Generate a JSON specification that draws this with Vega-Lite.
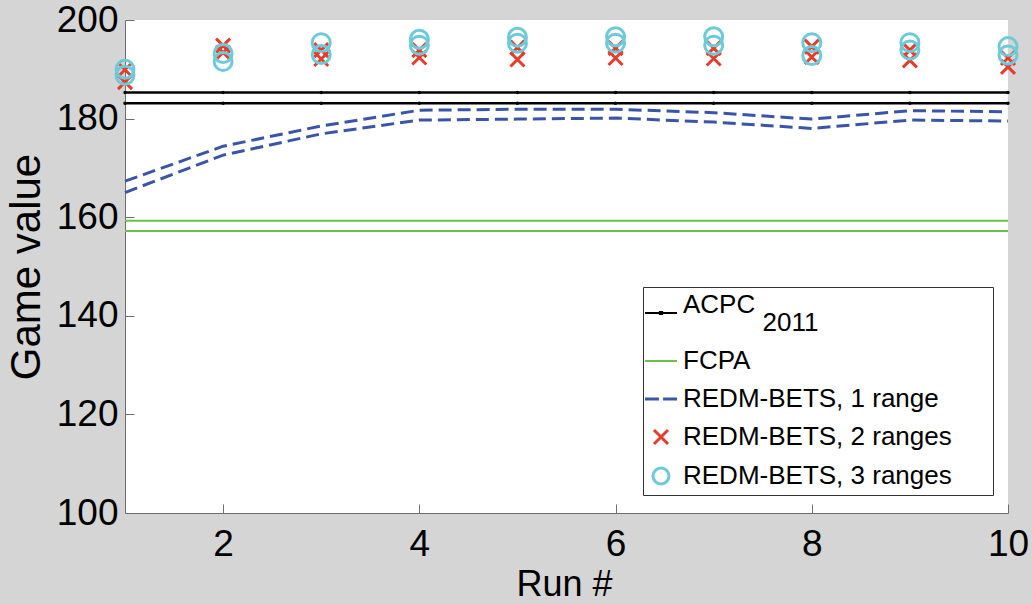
{
  "$schema": "https://vega.github.io/schema/vega-lite/v6.json",
  "width": 883,
  "height": 493,
  "autosize": {"type": "none"},
  "padding": {"left": 125, "top": 20, "right": 24, "bottom": 91},
  "background": "#d4d5d4",
  "config": {
    "view": {"fill": "white", "stroke": null},
    "font": "Liberation Sans",
    "axis": {
      "grid": false,
      "domainColor": "#6e6e6e",
      "domainWidth": 1,
      "tickColor": "#6e6e6e",
      "tickWidth": 1,
      "tickSize": -9,
      "labelFont": "Liberation Sans",
      "labelFontSize": 37,
      "labelColor": "black",
      "labelFlush": false,
      "labelOverlap": false,
      "titleFont": "Liberation Sans",
      "titleFontWeight": "normal",
      "titleColor": "black"
    }
  },
  "datasets": {
    "acpc": [
      {"series": "ACPC2011", "band": "a", "run": 1, "value": 185.3},
      {"series": "ACPC2011", "band": "a", "run": 2, "value": 185.3},
      {"series": "ACPC2011", "band": "a", "run": 3, "value": 185.3},
      {"series": "ACPC2011", "band": "a", "run": 4, "value": 185.3},
      {"series": "ACPC2011", "band": "a", "run": 5, "value": 185.3},
      {"series": "ACPC2011", "band": "a", "run": 6, "value": 185.3},
      {"series": "ACPC2011", "band": "a", "run": 7, "value": 185.3},
      {"series": "ACPC2011", "band": "a", "run": 8, "value": 185.3},
      {"series": "ACPC2011", "band": "a", "run": 9, "value": 185.3},
      {"series": "ACPC2011", "band": "a", "run": 10, "value": 185.3},
      {"series": "ACPC2011", "band": "b", "run": 1, "value": 183.1},
      {"series": "ACPC2011", "band": "b", "run": 2, "value": 183.1},
      {"series": "ACPC2011", "band": "b", "run": 3, "value": 183.1},
      {"series": "ACPC2011", "band": "b", "run": 4, "value": 183.1},
      {"series": "ACPC2011", "band": "b", "run": 5, "value": 183.1},
      {"series": "ACPC2011", "band": "b", "run": 6, "value": 183.1},
      {"series": "ACPC2011", "band": "b", "run": 7, "value": 183.1},
      {"series": "ACPC2011", "band": "b", "run": 8, "value": 183.1},
      {"series": "ACPC2011", "band": "b", "run": 9, "value": 183.1},
      {"series": "ACPC2011", "band": "b", "run": 10, "value": 183.1}
    ],
    "fcpa": [
      {"series": "FCPA", "band": "a", "run": 1, "value": 159.3},
      {"series": "FCPA", "band": "a", "run": 10, "value": 159.3},
      {"series": "FCPA", "band": "b", "run": 1, "value": 157.2},
      {"series": "FCPA", "band": "b", "run": 10, "value": 157.2}
    ],
    "redm1": [
      {"series": "REDM-BETS, 1 range", "band": "a", "run": 1, "value": 167.3},
      {"series": "REDM-BETS, 1 range", "band": "a", "run": 2, "value": 174.4},
      {"series": "REDM-BETS, 1 range", "band": "a", "run": 3, "value": 178.5},
      {"series": "REDM-BETS, 1 range", "band": "a", "run": 4, "value": 181.7},
      {"series": "REDM-BETS, 1 range", "band": "a", "run": 5, "value": 181.9},
      {"series": "REDM-BETS, 1 range", "band": "a", "run": 6, "value": 181.9},
      {"series": "REDM-BETS, 1 range", "band": "a", "run": 7, "value": 181.2},
      {"series": "REDM-BETS, 1 range", "band": "a", "run": 8, "value": 179.9},
      {"series": "REDM-BETS, 1 range", "band": "a", "run": 9, "value": 181.6},
      {"series": "REDM-BETS, 1 range", "band": "a", "run": 10, "value": 181.4},
      {"series": "REDM-BETS, 1 range", "band": "b", "run": 1, "value": 165.0},
      {"series": "REDM-BETS, 1 range", "band": "b", "run": 2, "value": 172.6},
      {"series": "REDM-BETS, 1 range", "band": "b", "run": 3, "value": 176.9},
      {"series": "REDM-BETS, 1 range", "band": "b", "run": 4, "value": 179.7},
      {"series": "REDM-BETS, 1 range", "band": "b", "run": 5, "value": 179.9},
      {"series": "REDM-BETS, 1 range", "band": "b", "run": 6, "value": 180.1},
      {"series": "REDM-BETS, 1 range", "band": "b", "run": 7, "value": 179.3},
      {"series": "REDM-BETS, 1 range", "band": "b", "run": 8, "value": 178.0},
      {"series": "REDM-BETS, 1 range", "band": "b", "run": 9, "value": 179.7},
      {"series": "REDM-BETS, 1 range", "band": "b", "run": 10, "value": 179.5}
    ],
    "redm2": [
      {"series": "REDM-BETS, 2 ranges", "band": "a", "run": 1, "value": 189.9},
      {"series": "REDM-BETS, 2 ranges", "band": "a", "run": 2, "value": 194.8},
      {"series": "REDM-BETS, 2 ranges", "band": "a", "run": 3, "value": 193.9},
      {"series": "REDM-BETS, 2 ranges", "band": "a", "run": 4, "value": 193.9},
      {"series": "REDM-BETS, 2 ranges", "band": "a", "run": 5, "value": 194.4},
      {"series": "REDM-BETS, 2 ranges", "band": "a", "run": 6, "value": 194.3},
      {"series": "REDM-BETS, 2 ranges", "band": "a", "run": 7, "value": 194.3},
      {"series": "REDM-BETS, 2 ranges", "band": "a", "run": 8, "value": 194.6},
      {"series": "REDM-BETS, 2 ranges", "band": "a", "run": 9, "value": 193.9},
      {"series": "REDM-BETS, 2 ranges", "band": "a", "run": 10, "value": 192.3},
      {"series": "REDM-BETS, 2 ranges", "band": "b", "run": 1, "value": 187.4},
      {"series": "REDM-BETS, 2 ranges", "band": "b", "run": 2, "value": 193.4},
      {"series": "REDM-BETS, 2 ranges", "band": "b", "run": 3, "value": 192.1},
      {"series": "REDM-BETS, 2 ranges", "band": "b", "run": 4, "value": 192.4},
      {"series": "REDM-BETS, 2 ranges", "band": "b", "run": 5, "value": 192.0},
      {"series": "REDM-BETS, 2 ranges", "band": "b", "run": 6, "value": 192.3},
      {"series": "REDM-BETS, 2 ranges", "band": "b", "run": 7, "value": 192.2},
      {"series": "REDM-BETS, 2 ranges", "band": "b", "run": 8, "value": 192.5},
      {"series": "REDM-BETS, 2 ranges", "band": "b", "run": 9, "value": 191.8},
      {"series": "REDM-BETS, 2 ranges", "band": "b", "run": 10, "value": 190.5}
    ],
    "redm3": [
      {"series": "REDM-BETS, 3 ranges", "band": "a", "run": 1, "value": 190.0},
      {"series": "REDM-BETS, 3 ranges", "band": "a", "run": 2, "value": 193.2},
      {"series": "REDM-BETS, 3 ranges", "band": "a", "run": 3, "value": 195.4},
      {"series": "REDM-BETS, 3 ranges", "band": "a", "run": 4, "value": 196.1},
      {"series": "REDM-BETS, 3 ranges", "band": "a", "run": 5, "value": 196.5},
      {"series": "REDM-BETS, 3 ranges", "band": "a", "run": 6, "value": 196.6},
      {"series": "REDM-BETS, 3 ranges", "band": "a", "run": 7, "value": 196.6},
      {"series": "REDM-BETS, 3 ranges", "band": "a", "run": 8, "value": 195.4},
      {"series": "REDM-BETS, 3 ranges", "band": "a", "run": 9, "value": 195.4},
      {"series": "REDM-BETS, 3 ranges", "band": "a", "run": 10, "value": 194.6},
      {"series": "REDM-BETS, 3 ranges", "band": "b", "run": 1, "value": 188.8},
      {"series": "REDM-BETS, 3 ranges", "band": "b", "run": 2, "value": 191.6},
      {"series": "REDM-BETS, 3 ranges", "band": "b", "run": 3, "value": 193.0},
      {"series": "REDM-BETS, 3 ranges", "band": "b", "run": 4, "value": 194.9},
      {"series": "REDM-BETS, 3 ranges", "band": "b", "run": 5, "value": 195.3},
      {"series": "REDM-BETS, 3 ranges", "band": "b", "run": 6, "value": 195.3},
      {"series": "REDM-BETS, 3 ranges", "band": "b", "run": 7, "value": 194.9},
      {"series": "REDM-BETS, 3 ranges", "band": "b", "run": 8, "value": 192.8},
      {"series": "REDM-BETS, 3 ranges", "band": "b", "run": 9, "value": 193.9},
      {"series": "REDM-BETS, 3 ranges", "band": "b", "run": 10, "value": 192.9}
    ]
  },
  "encoding": {
    "x": {
      "field": "run",
      "type": "quantitative",
      "scale": {"domain": [1, 10], "nice": false, "zero": false},
      "axis": {
        "values": [2, 4, 6, 8, 10],
        "labelPadding": 22,
        "title": "Run #",
        "titleFontSize": 36,
        "titleX": 439,
        "titleY": 82,
        "titleAlign": "center",
        "titleBaseline": "alphabetic"
      }
    },
    "y": {
      "field": "value",
      "type": "quantitative",
      "scale": {"domain": [100, 200], "nice": false, "zero": false},
      "axis": {
        "values": [100, 120, 140, 160, 180, 200],
        "labelPadding": 16,
        "title": "Game value",
        "titleFontSize": 42,
        "titleAngle": -90,
        "titleX": -99,
        "titleY": 246.5,
        "titleAlign": "center",
        "titleBaseline": "middle"
      }
    },
    "color": {
      "field": "series",
      "type": "nominal",
      "scale": {
        "domain": ["ACPC2011", "FCPA", "REDM-BETS, 1 range", "REDM-BETS, 2 ranges", "REDM-BETS, 3 ranges"],
        "range": ["#000000", "#6cbf4b", "#3a55a6", "#e83c2b", "#6ecad8"]
      },
      "legend": {
        "title": null,
        "orient": "none",
        "legendX": 518,
        "legendY": 267,
        "fillColor": "white",
        "strokeColor": "#333333",
        "padding": 5,
        "labelFont": "Liberation Sans",
        "labelFontSize": 26,
        "labelColor": "black",
        "labelLimit": 600,
        "labelOffset": 9,
        "symbolSize": 1024,
        "rowPadding": 12,
        "labelExpr": "datum.value === 'ACPC2011' ? ['ACPC', '\u200b\u00a0\u00a0\u00a0\u00a0\u00a0\u00a0\u00a0\u00a0\u00a0\u00a0\u00a02011'] : datum.label + '\u00a0\u00a0\u00a0\u00a0\u00a0\u200b'",
        "encode": {
          "labels": {"update": {"lineHeight": {"value": 18}}},
          "symbols": {
            "update": {
              "shape": {"signal": "datum.value === 'ACPC2011' ? 'M-1,0.5H1M-0.07,0.43H0.07V0.57H-0.07Z' : datum.value === 'FCPA' ? 'M-1,0H1' : datum.value === 'REDM-BETS, 1 range' ? 'M-1,0H-0.13M0.13,0H1' : datum.value === 'REDM-BETS, 2 ranges' ? 'M-1,-1L1,1M1,-1L-1,1' : 'circle'"},
              "size": {"signal": "datum.value === 'REDM-BETS, 2 ranges' ? 196 : datum.value === 'REDM-BETS, 3 ranges' ? 256 : 1024"},
              "stroke": {"signal": "datum.value === 'ACPC2011' ? '#000000' : datum.value === 'FCPA' ? '#6cbf4b' : datum.value === 'REDM-BETS, 1 range' ? '#3a55a6' : datum.value === 'REDM-BETS, 2 ranges' ? '#e83c2b' : '#6ecad8'"},
              "strokeWidth": {"signal": "datum.value === 'FCPA' ? 2 : datum.value === 'ACPC2011' ? 2 : 3"},
              "fill": {"value": "transparent"},
              "fillOpacity": {"value": 0},
              "opacity": {"value": 1}
            }
          }
        }
      }
    },
    "detail": {"field": "band", "type": "nominal"}
  },
  "layer": [
    {
      "data": {"name": "fcpa"},
      "mark": {"type": "line", "strokeWidth": 2}
    },
    {
      "data": {"name": "redm1"},
      "mark": {"type": "line", "strokeWidth": 3, "strokeDash": [13, 6]}
    },
    {
      "data": {"name": "acpc"},
      "mark": {"type": "line", "strokeWidth": 2.5, "point": {"filled": true, "size": 12, "opacity": 1}}
    },
    {
      "data": {"name": "redm2"},
      "mark": {"type": "point", "shape": "M-1,-1L1,1M1,-1L-1,1", "size": 196, "strokeWidth": 3, "filled": false, "opacity": 1}
    },
    {
      "data": {"name": "redm3"},
      "mark": {"type": "point", "shape": "circle", "size": 324, "strokeWidth": 3, "filled": false, "opacity": 1}
    }
  ]
}
